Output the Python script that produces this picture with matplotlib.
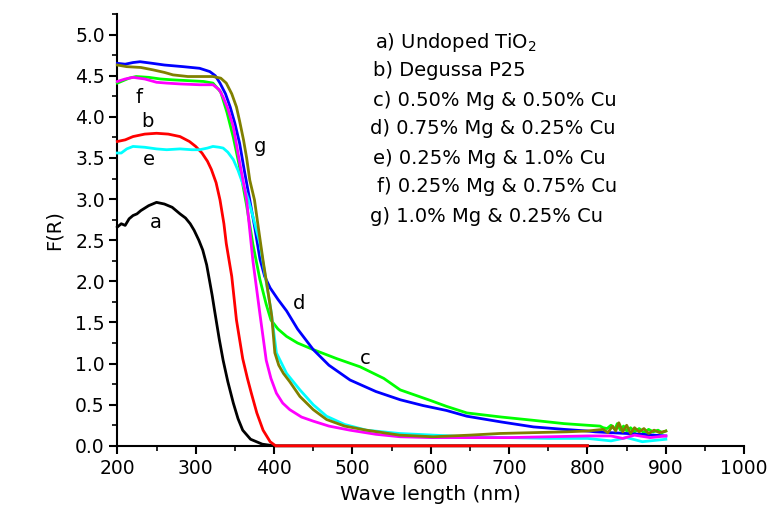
import numpy as np
import matplotlib.pyplot as plt
from matplotlib.ticker import MultipleLocator, FormatStrFormatter

plt.rcParams['font.family'] = 'DejaVu Sans'

# curve a: undoped TiO2
a_x = [200, 205, 210, 215, 220, 225, 230, 240, 250, 260, 270, 280, 287, 293, 298, 304, 309, 314, 318, 321, 324, 330, 335, 341, 348, 354, 360, 370, 385, 400, 800]
a_y = [2.66, 2.70, 2.68, 2.76, 2.80, 2.82, 2.86, 2.92, 2.96, 2.94, 2.90, 2.82, 2.77, 2.70, 2.62, 2.50, 2.38, 2.20, 1.99, 1.83, 1.65, 1.30, 1.04, 0.78, 0.52, 0.33, 0.19, 0.08, 0.02, 0.0, 0.0]

# curve b: Degussa P25
b_x = [200, 210, 220, 235, 250, 265, 280, 292, 300, 308, 315, 320, 326, 331, 336, 339, 346, 352, 360, 366, 371, 378, 386, 395, 402, 800]
b_y = [3.70, 3.72, 3.76, 3.79, 3.80, 3.79, 3.76, 3.70, 3.64, 3.56, 3.46, 3.36, 3.20, 2.99, 2.70, 2.46, 2.06, 1.53, 1.06, 0.82, 0.64, 0.40, 0.19, 0.05, 0.0, 0.0]

# curve c: 0.50% Mg & 0.50% Cu
c_x = [200, 205, 215, 224, 240, 255, 270, 290, 310, 322, 332, 340, 348, 356, 365, 373, 382, 390, 396, 405, 416, 430, 450, 480, 510, 540, 561, 600, 620, 646, 690, 731, 770, 800, 816,
       820, 825, 830, 835, 838, 842, 846, 850, 855, 860, 866, 872, 878, 884, 890, 895, 900]
c_y = [4.41, 4.43, 4.47, 4.49, 4.48, 4.46, 4.45, 4.44, 4.43, 4.41, 4.30, 4.05, 3.75, 3.39, 2.92, 2.45, 2.02, 1.72, 1.53, 1.42, 1.33, 1.25, 1.17, 1.06, 0.96, 0.82, 0.68, 0.55, 0.48, 0.40, 0.35, 0.31, 0.27, 0.25, 0.24,
       0.22, 0.21, 0.25, 0.20, 0.27, 0.19, 0.24, 0.18, 0.22, 0.17, 0.21, 0.16, 0.20, 0.17, 0.19, 0.16, 0.18]

# curve d: 0.75% Mg & 0.25% Cu
d_x = [200, 210, 220, 229, 245, 260, 284, 305, 318, 325, 331, 338, 344, 350, 356, 362, 369, 376, 382, 388, 395, 405, 416, 430, 450, 470, 497, 530, 561, 590, 620, 646, 690, 731, 770, 800,
       810, 830, 850, 870, 885, 900]
d_y = [4.65, 4.64, 4.66, 4.67, 4.65, 4.63, 4.61, 4.59, 4.55, 4.50, 4.41, 4.28, 4.12, 3.92, 3.68, 3.35, 2.99, 2.62, 2.27, 2.06, 1.92, 1.78, 1.64, 1.42, 1.17, 0.98, 0.80, 0.66, 0.56, 0.49, 0.43, 0.36, 0.29, 0.23, 0.20, 0.18,
       0.17, 0.16, 0.15, 0.14, 0.13, 0.12]

# curve e: 0.25% Mg & 1.0% Cu
e_x = [200, 205, 212, 220, 235, 250, 263, 280, 295, 305, 315, 322, 330, 335, 341, 348, 354, 360, 367, 373, 382, 389, 396, 403, 416, 433, 450, 467, 490, 518, 560, 603, 650, 700, 750, 800, 830, 850, 870, 900]
e_y = [3.56, 3.56, 3.61, 3.64, 3.63, 3.61, 3.60, 3.61, 3.60, 3.60, 3.62, 3.64, 3.63, 3.62, 3.57, 3.48, 3.35, 3.19, 3.00, 2.79, 2.46, 2.05, 1.65, 1.13, 0.88, 0.68, 0.50, 0.36, 0.26, 0.19, 0.15, 0.13, 0.11, 0.10, 0.09, 0.09, 0.06, 0.10, 0.05, 0.08]

# curve f: 0.25% Mg & 0.75% Cu
f_x = [200, 210, 220, 235, 250, 263, 280, 305, 322, 330, 335, 341, 348, 356, 365, 373, 382, 390, 396, 403, 411, 420, 435, 450, 470, 497, 530, 561, 600, 650, 700, 750, 800, 830, 845, 860, 880, 900]
f_y = [4.43, 4.46, 4.48, 4.46, 4.42, 4.41, 4.40, 4.39, 4.39, 4.33, 4.24, 4.10, 3.88, 3.45, 2.99, 2.25, 1.60, 1.04, 0.82, 0.64, 0.52, 0.44, 0.35, 0.30, 0.24, 0.19, 0.14, 0.11, 0.10, 0.10, 0.10, 0.11, 0.12, 0.12, 0.09, 0.13, 0.10, 0.12]

# curve g: 1.0% Mg & 0.25% Cu
g_x = [200, 212, 230, 246, 260, 271, 290, 305, 322, 332, 339, 346, 352, 356, 361, 365, 369, 375, 380, 386, 391, 397, 401, 406, 412, 420, 433, 450, 467, 490, 518, 560, 603, 650, 688, 730, 773, 800,
       820, 826, 832, 836, 840, 845, 850, 855, 860, 866, 872, 878, 885, 892, 900]
g_y = [4.63, 4.61, 4.60, 4.57, 4.54, 4.51, 4.49, 4.49, 4.49, 4.47, 4.41, 4.28, 4.12, 3.95, 3.72, 3.50, 3.23, 2.99, 2.65, 2.25, 1.95, 1.58, 1.13, 0.98, 0.88, 0.78, 0.60, 0.44, 0.32, 0.24, 0.19, 0.13, 0.11, 0.13, 0.15, 0.16, 0.17, 0.18,
       0.20, 0.16, 0.24, 0.18, 0.28, 0.17, 0.25, 0.15, 0.22, 0.17, 0.21, 0.15, 0.19, 0.16, 0.18]

curves = [(a_x, a_y, 'black'), (b_x, b_y, '#ff0000'), (c_x, c_y, '#00ff00'), (d_x, d_y, '#0000ff'),
          (e_x, e_y, '#00ffff'), (f_x, f_y, '#ff00ff'), (g_x, g_y, '#808000')]

# letters placed next to the curves
tag_text = ['a', 'b', 'c', 'd', 'e', 'f', 'g']
tag_x = [249, 238, 517, 432, 240, 227, 382]
tag_y = [2.72, 3.94, 1.06, 1.73, 3.48, 4.24, 3.64]

legend_lines = ['a) Undoped TiO$_2$', 'b) Degussa P25', 'c) 0.50% Mg & 0.50% Cu', 'd) 0.75% Mg & 0.25% Cu',
                'e) 0.25% Mg & 1.0% Cu', 'f) 0.25% Mg & 0.75% Cu', 'g) 1.0% Mg & 0.25% Cu']

fig = plt.figure(figsize=(7.72, 5.19), dpi=100)
ax = fig.add_axes([0.152, 0.141, 0.812, 0.832])

for xs, ys, col in curves:
    ax.plot(xs, ys, color=col, lw=2.0, clip_on=False, zorder=3)

for t, x, y in zip(tag_text, tag_x, tag_y):
    ax.text(x, y, t, fontsize=14, ha='center', va='center')

# legend block as plain text in figure pixels
leg_x = [375, 373, 373, 370, 373, 377, 370]
leg_y = [43, 71, 100, 128, 158, 187, 216]
for s, x, y in zip(legend_lines, leg_x, leg_y):
    fig.text(x / 772, 1 - y / 519, s, fontsize=14, ha='left', va='center')

ax.set_xlim(200, 1000)
ax.set_ylim(0, 5.25)
ax.xaxis.set_major_locator(MultipleLocator(100))
ax.xaxis.set_minor_locator(MultipleLocator(50))
ax.yaxis.set_major_locator(MultipleLocator(0.5))
ax.yaxis.set_minor_locator(MultipleLocator(0.25))
ax.yaxis.set_major_formatter(FormatStrFormatter('%.1f'))

for side in ['top', 'right']:
    ax.spines[side].set_visible(False)
for side in ['left', 'bottom']:
    ax.spines[side].set_linewidth(1.5)

ax.tick_params(which='major', length=6, width=1.5, labelsize=13.5, direction='out')
ax.tick_params(which='minor', length=3.5, width=1.2, direction='out')
ax.tick_params(axis='y', pad=3)

ax.set_xlabel('Wave length (nm)', fontsize=14.5, labelpad=5)
ax.set_ylabel('F(R)', fontsize=14, labelpad=8)

fig.savefig('out.png', dpi=100)
